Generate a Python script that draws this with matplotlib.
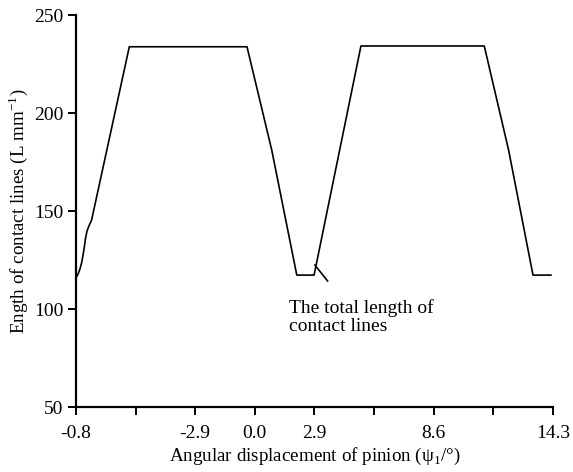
import matplotlib.pyplot as plt
import numpy as np

plt.rcParams['font.family'] = ['Liberation Serif', 'DejaVu Serif']
plt.rcParams['mathtext.fontset'] = 'custom'
plt.rcParams['mathtext.rm'] = 'Liberation Serif'

# total length of contact lines vs angular displacement
angle = [-8.55, -8.48, -8.41, -8.33, -8.26, -8.20, -8.14, -8.07, -7.98, -7.85,
         -6.04, -0.39, 0.80, 2.00, 2.83, 5.08, 11.00, 12.17, 13.34, 14.20]
length = [116.8, 118.4, 120.4, 123.5, 127.6, 131.6, 136.2, 139.8, 142.3, 145.4,
          233.8, 233.8, 181.0, 117.3, 117.3, 234.2, 234.2, 181.0, 117.3, 117.3]

tick_pos = np.linspace(-8.6, 14.3, 9)
tick_labels = ['-0.8', '', '-2.9', '0.0', '2.9', '', '8.6', '', '14.3']

fig = plt.figure(figsize=(5.73, 4.72), dpi=100)
ax = fig.add_axes([0.1326, 0.1377, 0.8325, 0.8305])

ax.plot(angle, length, color='black', lw=1.2)
# pointer for the annotation
ax.plot([2.87, 3.48], [122.4, 114.3], color='black', lw=1.2)
ax.text(1.63, 96.0, 'The total length of\ncontact lines', fontsize=14,
        va='center', ha='left', linespacing=1.1)

ax.set_xlim(-8.6, 14.3)
ax.set_ylim(50, 250)
ax.set_xticks(tick_pos)
ax.set_xticklabels(tick_labels)
ax.set_yticks([50, 100, 150, 200, 250])

for s in ['top', 'right']:
    ax.spines[s].set_visible(False)
for s in ['left', 'bottom']:
    ax.spines[s].set_linewidth(1.6)
ax.tick_params(direction='out', length=6, width=1.4, labelsize=14, pad=3)
ax.tick_params(axis='x', pad=7)

ax.set_xlabel('Angular displacement of pinion (ψ$_1$/°)', fontsize=13.7, labelpad=3)
ax.set_ylabel('Ength of contact lines (L mm$^{-1}$)', fontsize=13.7, labelpad=3)

fig.savefig('out.png', dpi=100)
